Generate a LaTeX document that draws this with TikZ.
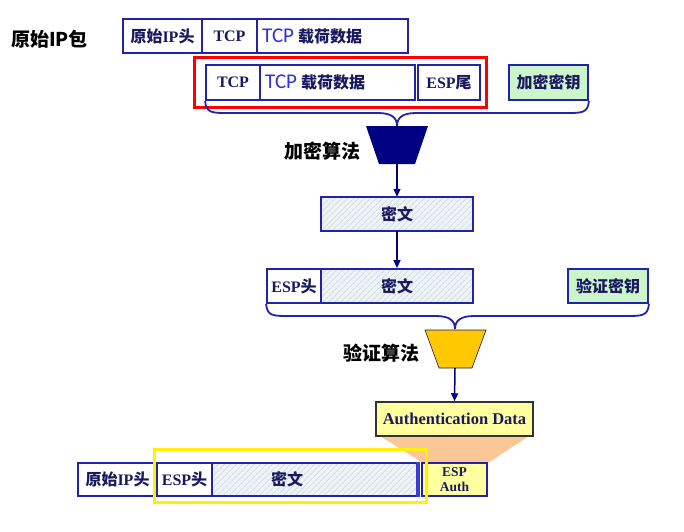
\documentclass[tikz,border=0pt]{standalone}
\usepackage{fontspec}
\setmainfont{Liberation Serif}
\newfontfamily\cjk{Noto Sans CJK SC}
\newfontfamily\calfont{Carlito}
\usetikzlibrary{patterns.meta,arrows.meta}
\definecolor{bbord}{RGB}{35,35,170}
\definecolor{btext}{RGB}{25,25,95}
\definecolor{tcpblue}{RGB}{50,50,215}
\definecolor{keyg}{RGB}{204,245,204}
\definecolor{hatchbg}{RGB}{238,243,246}
\definecolor{hatchln}{RGB}{190,204,214}
\definecolor{navyfill}{RGB}{0,0,128}
\definecolor{goldfill}{RGB}{255,200,0}
\definecolor{authy}{RGB}{255,255,160}
\definecolor{peach}{RGB}{250,200,150}
\definecolor{thickbar}{RGB}{60,60,205}
\newcommand\zh[1]{{\cjk #1}}
\newcommand\paytext{{\calfont\mdseries\color{tcpblue}\fontsize{21}{21}\selectfont TCP} \zh{载荷数据}}
\begin{document}
\begin{tikzpicture}[x=1pt,y=-1pt,
  box/.style={draw=bbord, line width=1.8pt, inner sep=0pt, text=btext,
    font=\bfseries\fontsize{16}{16}\selectfont},
  hatchbox/.style={box, preaction={fill=hatchbg},
    pattern={Lines[angle=45,distance=4pt,line width=0.5pt]}, pattern color=hatchln},
  keybox/.style={box, fill=keyg},
  plain/.style={inner sep=0pt, text=btext, font=\bfseries\fontsize{16}{16}\selectfont},
  lbl/.style={inner sep=0pt, text=black, font=\bfseries\fontsize{19}{19}\selectfont},
  brace/.style={draw=bbord, line width=1.8pt},
  arr/.style={draw=navyfill, line width=1.5pt, -{Triangle[length=8pt,width=7pt]}}]
\useasboundingbox (0,0) rectangle (684,531);

% title
\node[lbl] (title) at (49.5,39) {\zh{原始IP包}};

% top row
\node[box, minimum width=79pt, minimum height=34pt] (ip1) at (162.5,36) {\zh{原始}IP\zh{头}};
\node[box, minimum width=55pt, minimum height=34pt] (tcp1) at (229.5,36) {TCP};
\node[box, minimum width=151pt, minimum height=34pt] (pay1) at (332.5,36) {};
\node[plain, anchor=west] (pay1t) at (262,36) {\paytext};

% second row
\node[draw=red, line width=3pt, inner sep=0pt, minimum width=292pt, minimum height=50pt] (redbox) at (340,82) {};
\node[box, minimum width=54pt, minimum height=35pt] (tcp2) at (233,82.5) {TCP};
\node[box, minimum width=155pt, minimum height=35pt] (pay2) at (337.5,82.5) {};
\node[plain, anchor=west] (pay2t) at (265,82.5) {\paytext};
\node[box, minimum width=62pt, minimum height=35pt] (esptail) at (449,82.5) {ESP\zh{尾}};
\node[keybox, minimum width=79pt, minimum height=35pt] (key1) at (548.5,82.5) {\zh{加密密钥}};

% brace 1
\coordinate (ap1) at (397,126);
\draw[brace] (tcp2.south west) .. controls (206,113) and (212,113) .. (228,113) -- (378,113)
  .. controls (392,113) and (397,118) .. (ap1)
  .. controls (397,118) and (402,113) .. (416,113) -- (566,113)
  .. controls (582,113) and (588,113) .. (key1.south east);

% encryption algorithm
\fill[navyfill] (366,126) -- (428,126) -- (415,164) -- (379,164) -- cycle;
\coordinate (alg1b) at (397,164);
\node[lbl] (alg1l) at (322,151) {\zh{加密算法}};

% ciphertext
\node[hatchbox, minimum width=152pt, minimum height=34pt] (ct1) at (397,214) {\zh{密文}};
\draw[arr] (alg1b) -- (ct1.north);

% third row
\node[box, minimum width=54pt, minimum height=34pt] (esph2) at (294,286) {ESP\zh{头}};
\node[hatchbox, minimum width=152pt, minimum height=34pt] (ct2) at (397,286) {\zh{密文}};
\node[keybox, minimum width=80pt, minimum height=34pt] (key2) at (608,286) {\zh{验证密钥}};
\draw[arr] (ct1.south) -- (ct2.north);

% brace 2
\coordinate (ap2) at (455,329);
\draw[brace] (esph2.south west) .. controls (267,316) and (273,316) .. (289,316) -- (436,316)
  .. controls (450,316) and (455,321) .. (ap2)
  .. controls (455,321) and (460,316) .. (474,316) -- (626,316)
  .. controls (642,316) and (648,316) .. (key2.south east);

% authentication algorithm
\fill[goldfill] (425,330) -- (486,330) -- (472,368) -- (439,368) -- cycle;
\draw[bbord!60!black, line width=0.6pt] (425,330) -- (486,330) -- (472,368) -- (439,368) -- cycle;
\coordinate (alg2b) at (455,368);
\node[lbl] (alg2l) at (381,353) {\zh{验证算法}};

% peach connector
\fill[peach] (380,436) -- (529,436) -- (488,463) -- (423,463) -- cycle;

% authentication data
\node[draw=black!80, line width=1.5pt, fill=authy, inner sep=0pt, minimum width=157pt, minimum height=34pt,
  text=btext, font=\bfseries\fontsize{16.5}{16.5}\selectfont] (auth) at (454.5,419) {Authentication Data};
\draw[arr] (alg2b) -- (auth.north);

% bottom row
\node[box, minimum width=79pt, minimum height=33pt] (ip3) at (117.5,479.5) {\zh{原始}IP\zh{头}};
\node[box, minimum width=55pt, minimum height=33pt] (esph3) at (184.5,479.5) {ESP\zh{头}};
\node[hatchbox, minimum width=205pt, minimum height=33pt] (ct3) at (314.5,479.5) {};
\node[plain] (ct3t) at (287,479.5) {\zh{密文}};
\node[box, fill=authy, minimum width=65pt, minimum height=33pt, align=center,
  font=\bfseries\fontsize{13.5}{15}\selectfont] (espauth) at (454.5,479.5) {ESP\\Auth};
\draw[thickbar, line width=4pt] (ct3.north east) -- (ct3.south east);

% yellow frame
\node[draw=yellow, line width=3pt, inner sep=0pt, minimum width=272pt, minimum height=53pt] (ybox) at (290,475.5) {};
\end{tikzpicture}
\end{document}
